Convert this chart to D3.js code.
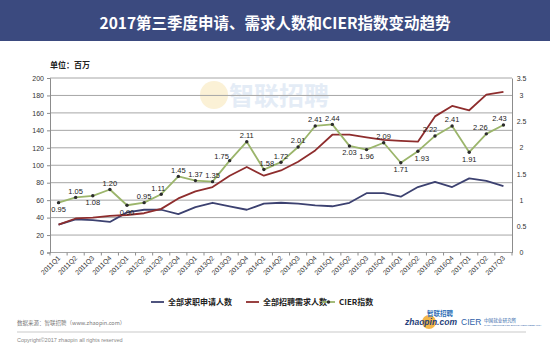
<!DOCTYPE html>
<html>
<head>
<meta charset="utf-8">
<script src="https://cdn.jsdelivr.net/npm/d3@7"></script>
<style>
  html, body { margin: 0; padding: 0; background: #fff; }
  svg { display: block; }
</style>
</head>
<body>
<svg id="chart" width="550" height="347"></svg>
<script>
// Quarterly job-market series, 2011Q1 – 2017Q3
const quarters = [
  "2011Q1","2011Q2","2011Q3","2011Q4",
  "2012Q1","2012Q2","2012Q3","2012Q4",
  "2013Q1","2013Q2","2013Q3","2013Q4",
  "2014Q1","2014Q2","2014Q3","2014Q4",
  "2015Q1","2015Q2","2015Q3","2015Q4",
  "2016Q1","2016Q2","2016Q3","2016Q4",
  "2017Q1","2017Q2","2017Q3"
];
// 全部求职申请人数 (millions)
const applicants = [32, 38, 37, 35, 46, 49, 49, 44, 52, 57, 53, 49, 56, 57, 56, 54, 53, 57, 68, 68, 64, 75, 81, 75, 85, 82, 76];
// 全部招聘需求人数 (millions)
const demand = [32, 39, 40, 42, 43, 45, 50, 62, 70, 75, 88, 98, 88, 94, 104, 117, 135, 135, 132, 129, 128, 127, 156, 168, 163, 181, 184];
// CIER指数
const cier = [0.95, 1.05, 1.08, 1.20, 0.90, 0.95, 1.11, 1.45, 1.37, 1.35, 1.75, 2.11, 1.58, 1.72, 2.01, 2.41, 2.44, 2.03, 1.96, 2.09, 1.71, 1.93, 2.22, 2.41, 1.91, 2.26, 2.43];

const leftTicks = [0, 20, 40, 60, 80, 100, 120, 140, 160, 180, 200];
const rightTicks = [0, 0.5, 1, 1.5, 2, 2.5, 3, 3.5];

const title = "2017第三季度申请、需求人数和CIER指数变动趋势";
const unitLabel = "单位：百万";
const seriesNames = ["全部求职申请人数", "全部招聘需求人数", "CIER指数"];

const svg = d3.select("#chart");
const W = 550, H = 347;
const plot = { left: 50, right: 512, top: 78, bottom: 252.5 };

const C = {
  bar: "#3b4a7f",
  grid: "#a6a6a6",
  axis: "#8c8c8c",
  text: "#333",
  blue: "#3c4170",
  red: "#8e2d2d",
  green: "#9bb56b",
  dot: "#2b2b2b"
};
const FONT = "'Liberation Sans', Arial, 'Noto Sans CJK SC', sans-serif";
const CJK = "'Noto Sans CJK SC', 'Liberation Sans', sans-serif";

// ---- header bar ----
svg.append("rect").attr("x", 0).attr("y", 0).attr("width", W).attr("height", 41).attr("fill", C.bar);
svg.append("text")
  .attr("x", W / 2).attr("y", 28.5)
  .attr("text-anchor", "middle")
  .attr("font-family", CJK).attr("font-weight", 700).attr("font-size", 15.5)
  .attr("fill", "#fff")
  .text(title);

// ---- scales ----
const x = d3.scaleBand().domain(quarters).range([plot.left, plot.right]);
const yL = d3.scaleLinear().domain([0, 200]).range([plot.bottom, plot.top]);
// right axis: 0.5 step every ~26px; the top label sits on the frame edge
const yR = d3.scaleLinear().domain([0, (plot.bottom - plot.top) / 52.5]).range([plot.bottom, plot.top]).clamp(true);
const cx = q => x(q) + x.bandwidth() / 2;

// ---- faint watermark ----
const wm = svg.append("g").attr("opacity", 0.3);
wm.append("circle").attr("cx", 214).attr("cy", 95).attr("r", 14).attr("fill", "#f3d27a");
wm.append("text")
  .attr("x", 229).attr("y", 105)
  .attr("font-family", CJK).attr("font-weight", 700).attr("font-size", 25)
  .attr("fill", "#a9c3e4")
  .text("智联招聘");

// ---- gridlines ----
svg.append("g").selectAll("line").data(leftTicks).join("line")
  .attr("x1", plot.left).attr("x2", plot.right)
  .attr("y1", d => yL(d)).attr("y2", d => yL(d))
  .attr("stroke", C.grid).attr("stroke-width", 1);

// ---- left axis ----
const gL = svg.append("g").attr("transform", `translate(${plot.left},0)`)
  .call(d3.axisLeft(yL).tickValues(leftTicks).tickSize(3).tickPadding(3));
gL.select(".domain").attr("stroke", C.axis);
gL.selectAll(".tick line").attr("stroke", C.axis);
gL.selectAll("text").attr("font-family", FONT).attr("font-size", 7).attr("fill", C.text);

// ---- right axis ----
const gR = svg.append("g").attr("transform", `translate(${plot.right},0)`)
  .call(d3.axisRight(yR).tickValues(rightTicks).tickSize(0).tickPadding(9.5).tickFormat(d3.format("~g")));
gR.select(".domain").attr("stroke", C.axis);
gR.selectAll("text").attr("font-family", FONT).attr("font-size", 7).attr("fill", C.text)
  .attr("text-anchor", "middle");

// ---- x axis: ticks at band boundaries, rotated labels ----
const boundaries = quarters.map(q => x(q)).concat([plot.right]);
svg.append("g").selectAll("line").data(boundaries).join("line")
  .attr("x1", d => d).attr("x2", d => d)
  .attr("y1", plot.bottom).attr("y2", plot.bottom + 3)
  .attr("stroke", C.axis);
svg.append("g").selectAll("text").data(quarters).join("text")
  .attr("transform", q => `translate(${cx(q) + 2},${plot.bottom + 6}) rotate(-45)`)
  .attr("text-anchor", "end")
  .attr("font-family", FONT).attr("font-size", 6.8).attr("fill", C.text)
  .text(q => q);

// ---- unit label ----
svg.append("text")
  .attr("x", 50).attr("y", 67.5)
  .attr("font-family", CJK).attr("font-weight", 700).attr("font-size", 8)
  .attr("fill", "#222")
  .text(unitLabel);

// ---- lines ----
const lineL = d3.line().x((d, i) => cx(quarters[i])).y(d => yL(d));
const lineR = d3.line().x((d, i) => cx(quarters[i])).y(d => yR(d));

svg.append("path").datum(applicants).attr("d", lineL)
  .attr("fill", "none").attr("stroke", C.blue).attr("stroke-width", 1.8).attr("stroke-linejoin", "round");
svg.append("path").datum(demand).attr("d", lineL)
  .attr("fill", "none").attr("stroke", C.red).attr("stroke-width", 1.8).attr("stroke-linejoin", "round");
svg.append("path").datum(cier).attr("d", lineR)
  .attr("fill", "none").attr("stroke", C.green).attr("stroke-width", 1.8).attr("stroke-linejoin", "round");
svg.append("g").selectAll("circle").data(cier).join("circle")
  .attr("cx", (d, i) => cx(quarters[i])).attr("cy", d => yR(d))
  .attr("r", 1.7).attr("fill", C.dot);

// ---- CIER value labels ----
// placement per quarter: listed ones go below the point, others above; dx nudges sideways
const below = new Set(["2011Q1", "2011Q3", "2012Q1", "2015Q2", "2015Q3", "2016Q1", "2016Q2", "2017Q1"]);
const nudge = { "2012Q3": -3, "2013Q3": -8, "2014Q1": 3, "2016Q2": 4, "2016Q3": -5, "2017Q2": -6, "2017Q3": -4 };
const lift = { "2013Q3": 2 };
svg.append("g").selectAll("text").data(cier).join("text")
  .attr("x", (d, i) => cx(quarters[i]) + (nudge[quarters[i]] || 0))
  .attr("y", (d, i) => {
    const q = quarters[i];
    return below.has(q) ? yR(d) + 9.5 : yR(d) - 3.5 + (lift[q] || 0);
  })
  .attr("text-anchor", "middle")
  .attr("font-family", FONT).attr("font-size", 7.5).attr("fill", "#222")
  .text(d => d.toFixed(2));

// ---- legend ----
const legY = 302;
const legend = [
  { name: seriesNames[0], color: C.blue, x: 151, dot: false },
  { name: seriesNames[1], color: C.red, x: 246, dot: false },
  { name: seriesNames[2], color: C.green, x: 322, dot: true }
];
const lg = svg.append("g");
legend.forEach(it => {
  lg.append("line").attr("x1", it.x).attr("x2", it.x + 13)
    .attr("y1", legY).attr("y2", legY)
    .attr("stroke", it.color).attr("stroke-width", 1.8);
  if (it.dot) lg.append("circle").attr("cx", it.x + 6.5).attr("cy", legY).attr("r", 1.7).attr("fill", C.dot);
  lg.append("text").attr("x", it.x + 17).attr("y", legY + 3)
    .attr("font-family", CJK).attr("font-weight", 700).attr("font-size", 8)
    .attr("fill", "#222").text(it.name);
});

// ---- footer ----
svg.append("text").attr("x", 17).attr("y", 324.5)
  .attr("font-family", CJK).attr("font-size", 5.5).attr("fill", "#777")
  .text("数据来源：智联招聘（www.zhaopin.com）");
svg.append("line").attr("x1", 17).attr("x2", 526).attr("y1", 332).attr("y2", 332)
  .attr("stroke", "#bbb").attr("stroke-width", 0.8);
svg.append("text").attr("x", 17).attr("y", 342)
  .attr("font-family", FONT).attr("font-size", 5.5).attr("fill", "#888")
  .text("Copyright©2017 zhaopin all rights reserved");

// logos
svg.append("circle").attr("cx", 429).attr("cy", 322).attr("r", 7).attr("fill", "#f2a928").attr("opacity", 0.85);
svg.append("text").attr("x", 440).attr("y", 316)
  .attr("font-family", CJK).attr("font-weight", 700).attr("font-size", 6.5)
  .attr("fill", "#2e6fb6").attr("text-anchor", "middle").text("智联招聘");
svg.append("text").attr("x", 405).attr("y", 325)
  .attr("font-family", FONT).attr("font-weight", 700).attr("font-style", "italic").attr("font-size", 8.5)
  .attr("fill", "#1f3f7a").text("zhaopin.com");
svg.append("text").attr("x", 461).attr("y", 324.5)
  .attr("font-family", FONT).attr("font-size", 8.5)
  .attr("fill", "#2e5fa8").text("CIER");
svg.append("text").attr("x", 484).attr("y", 321.5)
  .attr("font-family", CJK).attr("font-size", 4.6)
  .attr("fill", "#2e5fa8").text("中国就业研究所");
svg.append("text").attr("x", 484).attr("y", 325.5)
  .attr("font-family", FONT).attr("font-size", 2.4)
  .attr("fill", "#2e5fa8").text("CHINA INSTITUTE FOR EMPLOYMENT RESEARCH");
</script>
</body>
</html>
